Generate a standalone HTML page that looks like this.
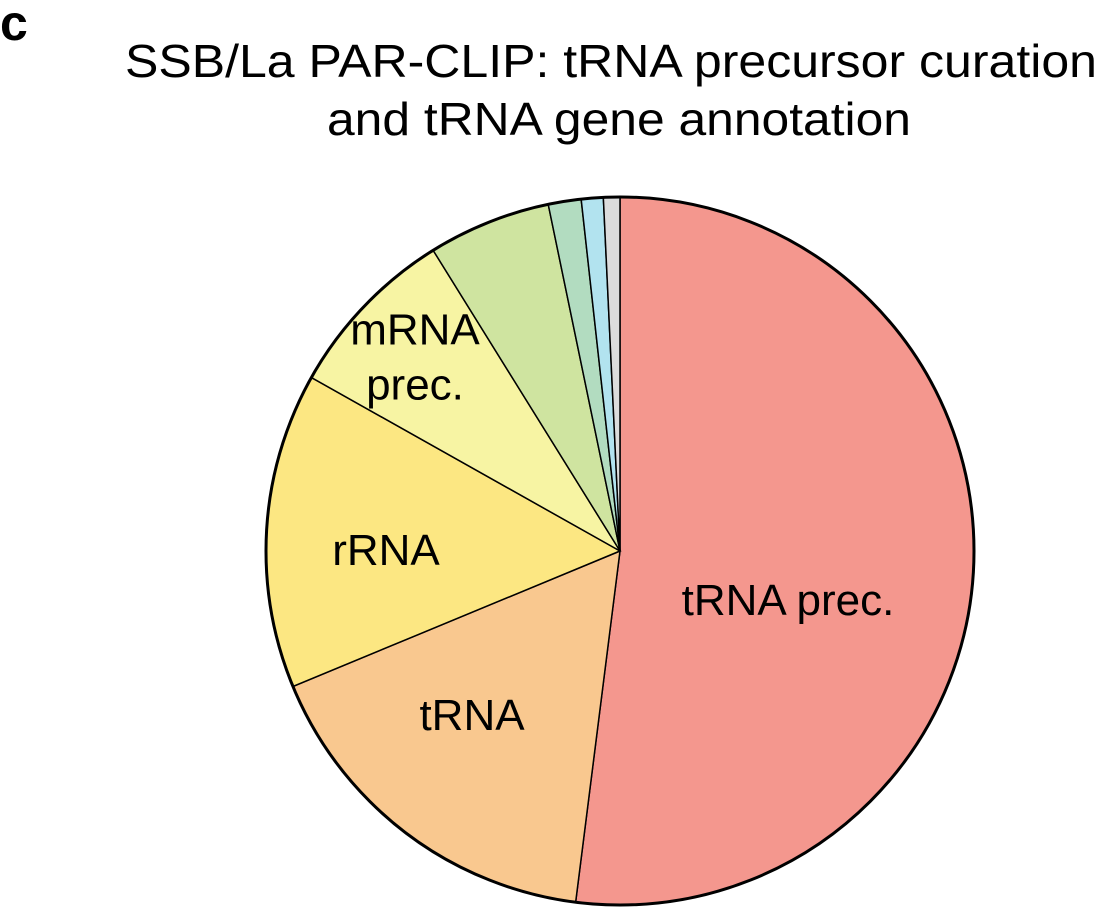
<!DOCTYPE html>
<html><head><meta charset="utf-8"><style>
html,body{margin:0;padding:0;background:#fff;}
svg{display:block;font-family:"Liberation Sans",Arial,sans-serif;}
</style></head><body>
<svg id="chart" width="1112" height="909" viewBox="0 0 1112 909">
<text x="0" y="40" font-size="50" font-weight="bold">c</text>
<text x="611" y="77" font-size="46" text-anchor="middle" textLength="972" lengthAdjust="spacingAndGlyphs">SSB/La PAR-CLIP: tRNA precursor curation</text>
<text x="619" y="135" font-size="46" text-anchor="middle" textLength="584" lengthAdjust="spacingAndGlyphs">and tRNA gene annotation</text>
<g id="slices"></g>
<g id="labels"></g>
</svg>
<script>
const categories = ["tRNA prec.", "tRNA", "rRNA", "mRNA prec.", "other1", "other2", "other3", "other4"];
const values = [52.0, 16.75, 14.4, 8.0, 5.6, 1.5, 1.0, 0.75];
const labelText = ["tRNA prec.", "tRNA", "rRNA", "mRNA\nprec.", "", "", "", ""];
const colors = ["#f4978e", "#f9c88f", "#fce782", "#f7f4a3", "#cfe4a0", "#b2dcc0", "#b2e3ef", "#dcdcdc"];
const cx = 620, cy = 551, r = 354;
const labelPos = [[788,600],[472,715],[386,550],[415,357],null,null,null,null];
const NS = "http://www.w3.org/2000/svg";
const total = values.reduce((a,b)=>a+b,0);
const slicesG = document.getElementById("slices");
const labelsG = document.getElementById("labels");
function pt(angDeg, rad){const a=angDeg*Math.PI/180;return [cx+rad*Math.sin(a), cy-rad*Math.cos(a)];}
let start = 0;
values.forEach((v,i)=>{
  const sweep = v/total*360, end = start+sweep;
  const p0 = pt(start,r), p1 = pt(end,r);
  const path = document.createElementNS(NS,"path");
  path.setAttribute("d",`M${cx},${cy} L${p0[0]},${p0[1]} A${r},${r} 0 ${sweep>180?1:0} 1 ${p1[0]},${p1[1]} Z`);
  path.setAttribute("fill",colors[i]);
  path.setAttribute("stroke","#000");
  path.setAttribute("stroke-width","1.5");
  
  
  slicesG.appendChild(path);
  if(labelText[i] && labelPos[i]){
    const lp = labelPos[i];
    const lines = labelText[i].split("\n");
    lines.forEach((ln,j)=>{
      const t = document.createElementNS(NS,"text");
      t.setAttribute("x",lp[0]);
      t.setAttribute("y",lp[1]+15+(j-(lines.length-1)/2)*55);
      t.setAttribute("font-size","44");
      t.setAttribute("text-anchor","middle");
      t.textContent = ln;
      
      
      labelsG.appendChild(t);
    });
  }
  start = end;
});
const outline = document.createElementNS(NS,"circle");
outline.setAttribute("cx",cx);outline.setAttribute("cy",cy);outline.setAttribute("r",r);
outline.setAttribute("fill","none");outline.setAttribute("stroke","#000");outline.setAttribute("stroke-width","3");


slicesG.appendChild(outline);
</script>
</body></html>
